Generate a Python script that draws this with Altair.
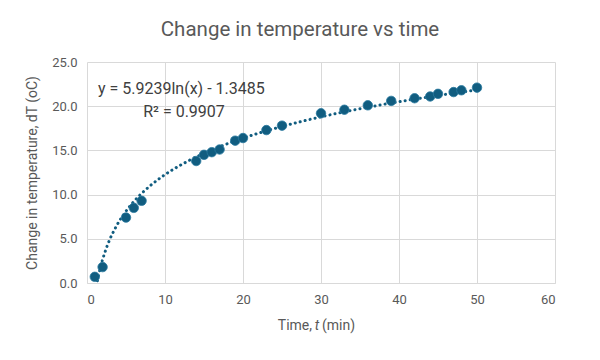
import altair as alt
import pandas as pd

t_min = [1, 2, 5, 6, 7, 14, 15, 16, 17, 19, 20, 23, 25, 30, 33, 36, 39, 42, 44, 45, 47, 48, 50]
dT = [0.7, 1.8, 7.4, 8.5, 9.3, 13.8, 14.5, 14.8, 15.1, 16.1, 16.4, 17.3, 17.8, 19.2, 19.6, 20.1, 20.6, 20.9, 21.1, 21.4, 21.6, 21.8, 22.1]

x_ticks = [0, 10, 20, 30, 40, 50, 60]
y_ticks = [0, 5, 10, 15, 20, 25]

df = pd.DataFrame({"t": t_min, "dT": dT})

FONT = "Roboto, sans-serif"
COLOR = "#115d80"
GREY = "#595959"

W, H = 468, 221

base = alt.Chart(df)

x_enc = alt.X("t:Q", scale=alt.Scale(domain=[0, 60], nice=False),
              axis=alt.Axis(values=x_ticks, title=None, labelFontSize=13, labelColor=GREY,
                            labelFont=FONT, ticks=False, labelPadding=10,
                            domainColor="#d9d9d9", gridColor="#d9d9d9"))
y_enc = alt.Y("dT:Q", scale=alt.Scale(domain=[0, 25], nice=False),
              axis=alt.Axis(values=y_ticks, format=".1f", title="Change in temperature, dT (oC)",
                            titleFontSize=14, titleFont=FONT, titleColor=GREY, titleFontWeight="normal",
                            titlePadding=12, labelFontSize=13, labelColor=GREY, labelFont=FONT,
                            ticks=False, labelPadding=10, domain=False, gridColor="#d9d9d9"))

trend = base.transform_regression("t", "dT", method="log", extent=[1, 50]).mark_line(
    color=COLOR, strokeDash=[0.1, 5], strokeWidth=3, clip=True, strokeCap="round"
).encode(x=x_enc, y=y_enc)

points = base.mark_circle(size=90, color=COLOR, opacity=1, stroke="#2a7aa0", strokeWidth=0.8).encode(
    x="t:Q", y="dT:Q")

eq = alt.Chart(pd.DataFrame({"txt": ["y = 5.9239ln(x) - 1.3485"]})).mark_text(
    align="left", baseline="middle", fontSize=16, font=FONT, color="#404040"
).encode(text="txt:N", x=alt.value(11), y=alt.value(27))

r2 = alt.Chart(pd.DataFrame({"txt": ["R² = 0.9907"]})).mark_text(
    align="center", baseline="middle", fontSize=16, font=FONT, color="#404040"
).encode(text="txt:N", x=alt.value(97), y=alt.value(50))

xt1 = alt.Chart(pd.DataFrame({"txt": ["Time,"]})).mark_text(
    align="right", baseline="middle", fontSize=14, font=FONT, color=GREY
).encode(text="txt:N", x=alt.value(225), y=alt.value(264))
xt2 = alt.Chart(pd.DataFrame({"txt": ["t"]})).mark_text(
    align="center", baseline="middle", fontSize=14, font=FONT, color=GREY, fontStyle="italic"
).encode(text="txt:N", x=alt.value(230), y=alt.value(264))
xt3 = alt.Chart(pd.DataFrame({"txt": ["(min)"]})).mark_text(
    align="left", baseline="middle", fontSize=14, font=FONT, color=GREY
).encode(text="txt:N", x=alt.value(235), y=alt.value(264))

chart = alt.layer(trend, points, eq, r2, xt1, xt2, xt3).properties(
    width=W, height=H,
    title=alt.Title("Change in temperature vs time", fontSize=20.5, font=FONT, color=GREY,
                    fontWeight="normal", anchor="middle", offset=16, dx=-21),
    autosize=alt.AutoSizeParams(type="none"),
    padding={"left": 79, "top": 54, "right": 37, "bottom": 69},
).configure_view(stroke=None)

chart.save("out.html", embed_options={"renderer": "svg", "actions": False})
